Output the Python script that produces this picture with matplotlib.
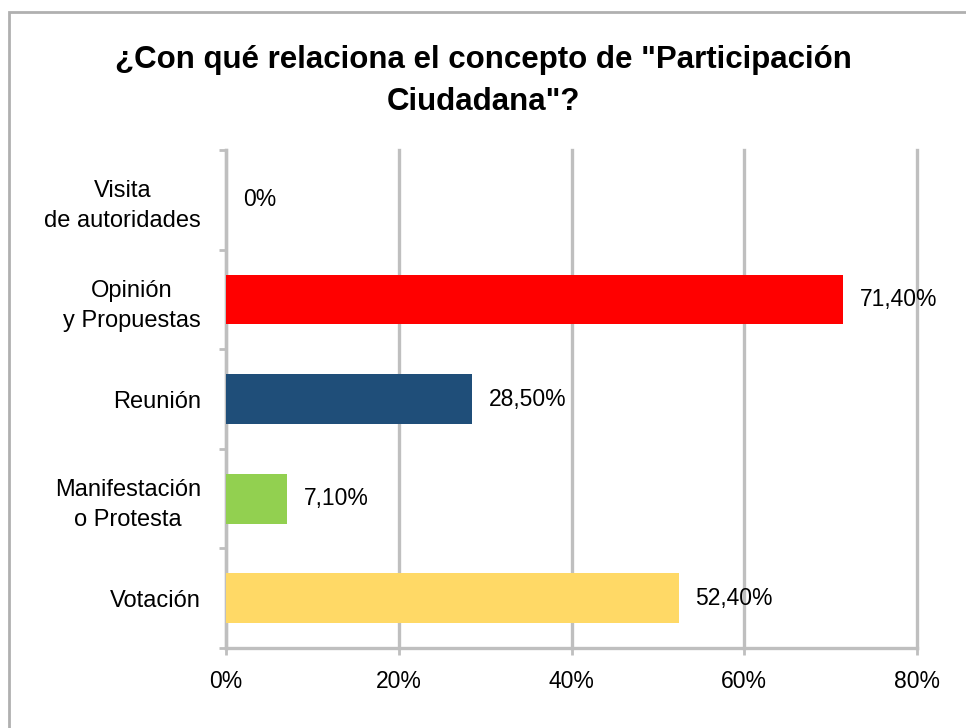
import matplotlib
matplotlib.use("Agg")
import matplotlib.pyplot as plt
from matplotlib.patches import Rectangle

categories = ["Visita\nde autoridades", "Opinión\ny Propuestas", "Reunión",
              "Manifestación\no Protesta", "Votación"]
values = [0.0, 71.4, 28.5, 7.1, 52.4]
value_labels = ["0%", "71,40%", "28,50%", "7,10%", "52,40%"]
colors = ["#FFFFFF", "#FF0000", "#1F4E79", "#92D050", "#FFD966"]
xticks = [0, 20, 40, 60, 80]
xtick_labels = ["0%", "20%", "40%", "60%", "80%"]
title = '¿Con qué relaciona el concepto de "Participación\nCiudadana"?'

plt.rcParams["font.family"] = ["Liberation Sans", "DejaVu Sans"]

W, H = 966, 728
fig = plt.figure(figsize=(W / 100, H / 100), dpi=100)
ax = fig.add_axes([226 / W, 1 - 648 / H, (917 - 226) / W, (648 - 150) / H])

grid_c = "#BFBFBF"
fs = 16.5
ypos = list(range(len(categories)))
ax.barh(ypos, values, height=0.5, color=colors, zorder=3)
ax.set_ylim(len(categories) - 0.5, -0.5)
ax.set_xlim(0, 80)

for y, v, lab in zip(ypos, values, value_labels):
    ax.annotate(lab, xy=(v, y), xytext=(12, 0), textcoords="offset points",
                ha="left", va="center", fontsize=fs, color="#000000")

ax.set_xticks(xticks)
ax.set_xticklabels(xtick_labels, fontsize=fs)
ax.set_yticks(ypos)
ax.set_yticklabels(categories, fontsize=17, multialignment="center",
                   linespacing=1.45)
ax.set_yticks([i - 0.5 for i in range(len(categories) + 1)], minor=True)
ax.tick_params(axis="y", which="major", length=0, pad=18)
ax.tick_params(axis="y", which="minor", length=5, width=2, color=grid_c)
ax.tick_params(axis="x", which="major", length=5, width=2, color=grid_c, pad=11)

ax.grid(axis="x", color=grid_c, linewidth=2.4, zorder=0)
for gl in ax.get_xgridlines():
    gl.set_clip_on(False)
for s in ["top", "right"]:
    ax.spines[s].set_visible(False)
for s in ["left", "bottom"]:
    ax.spines[s].set_color(grid_c)
    ax.spines[s].set_linewidth(2.4)

fig.text(0.5, 1 - 81 / H, title, ha="center", va="center", fontsize=22.5,
         fontweight="bold", linespacing=1.55)

fig.patches.append(Rectangle((9 / W, -0.05), 1.1, 1 - 12 / H + 0.05,
                             transform=fig.transFigure, fill=False,
                             edgecolor="#B0B0B0", linewidth=2))

fig.savefig("out.png", dpi=100)
